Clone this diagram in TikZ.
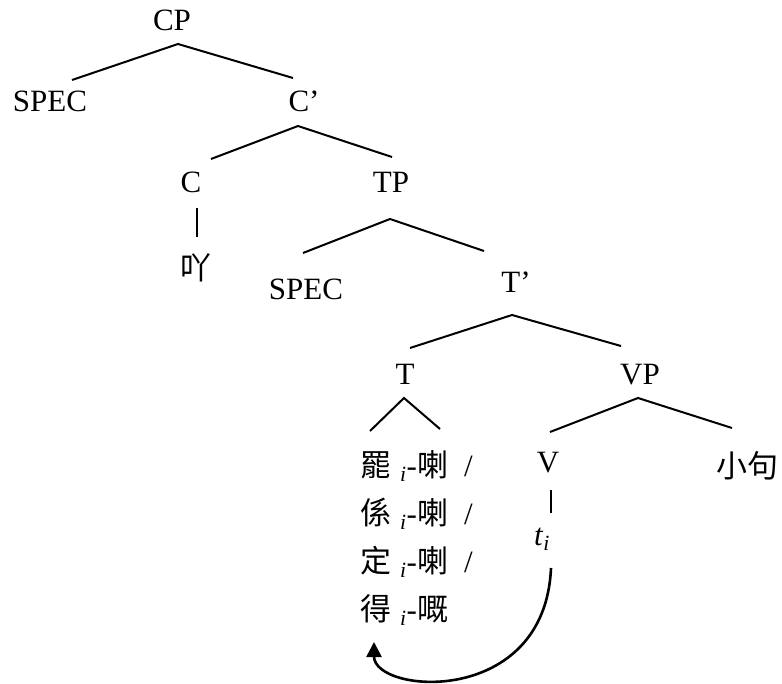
\documentclass[tikz,border=0pt]{standalone}
\usepackage{fontspec}
\setmainfont{Liberation Serif}
\newfontfamily\cjk{Noto Sans CJK TC}
\usetikzlibrary{arrows.meta}
\newcommand\idx{\textsubscript{\textit{i}}}
\begin{document}
\begin{tikzpicture}[x=1pt,y=-1pt,
  lbl/.style={anchor=base,inner sep=0pt,font=\fontsize{31}{36}\selectfont},
  rowtxt/.style={anchor=base west,inner sep=0pt,font=\fontsize{31}{36}\selectfont},
  edge/.style={line width=2pt},
  arr/.style={line width=2.6pt,-{Triangle[length=15pt,width=15pt]}}]
\useasboundingbox (0,0) rectangle (782,684);
% nodes
\node[lbl] (CP) at (172,31) {CP};
\node[lbl] (SPEC1) at (50,112) {SPEC};
\node[lbl] (Cbar) at (304,112) {C’};
\node[lbl] (C) at (191,193) {C};
\node[lbl] (TP) at (391,193) {TP};
\node[lbl] (ya) at (196,280) {\cjk 吖};
\node[lbl] (SPEC2) at (306,300) {SPEC};
\node[lbl] (Tbar) at (516,293) {T’};
\node[lbl] (T) at (405,385) {T};
\node[lbl] (VP) at (640,385) {VP};
\node[lbl] (V) at (548,472) {V};
\node[lbl] (clause) at (747,477) {\cjk 小句};
\node[lbl] (trace) at (542,545) {\textit{t}\idx};
\node[rowtxt] (r1) at (360,476) {{\cjk 罷}\hspace{9pt}\idx-{\cjk 喇}\hspace{16pt}/};
\node[rowtxt] (r2) at (360,524) {{\cjk 係}\hspace{9pt}\idx-{\cjk 喇}\hspace{16pt}/};
\node[rowtxt] (r3) at (360,572) {{\cjk 定}\hspace{9pt}\idx-{\cjk 喇}\hspace{16pt}/};
\node[rowtxt] (r4) at (360,620) {{\cjk 得}\hspace{9pt}\idx-{\cjk 嘅}};
% branch coordinates
\coordinate (cpA) at (178,44); \coordinate (cpL) at (72,80); \coordinate (cpR) at (293,78);
\coordinate (cbA) at (298,126); \coordinate (cbL) at (211,159); \coordinate (cbR) at (392,157);
\coordinate (cT) at (197,208); \coordinate (cB) at (197,237);
\coordinate (tpA) at (390,219); \coordinate (tpL) at (303,253); \coordinate (tpR) at (484,251);
\coordinate (tbA) at (512,315); \coordinate (tbL) at (410,348); \coordinate (tbR) at (621,346);
\coordinate (tA) at (404,398); \coordinate (tL) at (370,431); \coordinate (tR) at (440,429);
\coordinate (vpA) at (638,398); \coordinate (vpL) at (550,432); \coordinate (vpR) at (732,428);
\coordinate (vT) at (551,490); \coordinate (vB) at (551,513);
\coordinate (mvS) at (551,568); \coordinate (mvE) at (374,642);
% connectors
\draw[edge] (cpL) -- (cpA) -- (cpR);
\draw[edge] (cbL) -- (cbA) -- (cbR);
\draw[edge] (cT) -- (cB);
\draw[edge] (tpL) -- (tpA) -- (tpR);
\draw[edge] (tbL) -- (tbA) -- (tbR);
\draw[edge] (tL) -- (tA) -- (tR);
\draw[edge] (vpL) -- (vpA) -- (vpR);
\draw[edge] (vT) -- (vB);
\draw[arr] (mvS) .. controls (545,708) and (374,694) .. (mvE);
\end{tikzpicture}
\end{document}
